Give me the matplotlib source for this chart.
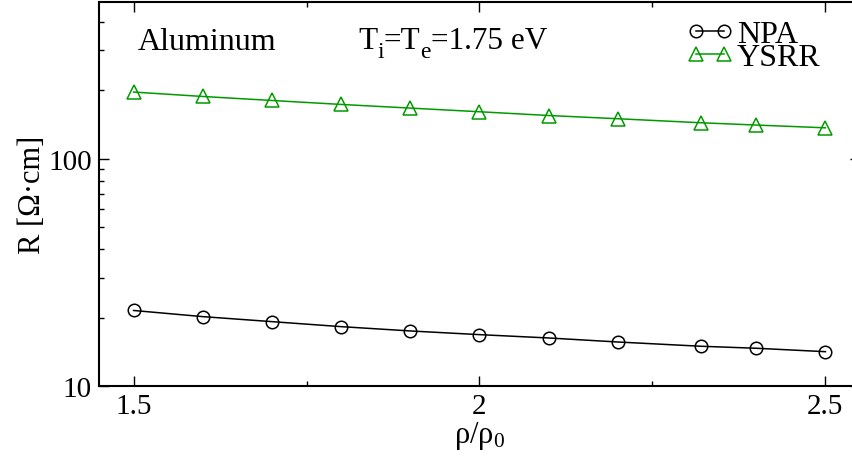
import matplotlib
matplotlib.use("Agg")
import matplotlib.pyplot as plt
from matplotlib.ticker import LogLocator, FixedLocator, NullFormatter, FuncFormatter

# data
density = [1.5, 1.6, 1.7, 1.8, 1.9, 2.0, 2.1, 2.2, 2.32, 2.4, 2.5]
npa = [21.5, 20.2, 19.2, 18.25, 17.47, 16.83, 16.27, 15.62, 14.96, 14.66, 14.16]
ysrr = [196.7, 188.1, 180.6, 173.5, 167.2, 161.1, 155.1, 150.1, 144.1, 140.8, 136.9]
xticks = [1.5, 2.0, 2.5]
xtick_labels = ["1.5", "2", "2.5"]

plt.rcParams["font.family"] = ["Liberation Serif", "DejaVu Serif"]
plt.rcParams["mathtext.fontset"] = "custom"
plt.rcParams["mathtext.rm"] = "Liberation Serif"
plt.rcParams["mathtext.it"] = "Liberation Serif:italic"

W, H, DPI = 853, 460, 100
fig = plt.figure(figsize=(W / DPI, H / DPI), dpi=DPI)
ax = fig.add_axes([99 / W, 73 / H, (860 - 99) / W, (387 - 3) / H])

green = "#009a00"
ax.plot(density, npa, "-", color="black", lw=1.1, marker="o", ms=9,
        mfc="none", mec="black", mew=1.1, label="NPA")
ax.plot(density, ysrr, "-", color=green, lw=1.1, marker="^", ms=10,
        mfc="none", mec=green, mew=1.1, label="YSRR")

ax.set_yscale("log")
ax.set_xlim(1.45, 2.55)
ax.set_ylim(10, 490)

ax.xaxis.set_major_locator(FixedLocator(xticks))
ax.set_xticklabels(xtick_labels)
ax.xaxis.set_minor_locator(FixedLocator([1.75, 2.25]))
ax.yaxis.set_major_locator(LogLocator(base=10, numticks=10))
ax.yaxis.set_major_formatter(FuncFormatter(lambda v, p: f"{v:g}"))
ax.yaxis.set_minor_locator(LogLocator(base=10, subs=range(2, 10), numticks=20))
ax.yaxis.set_minor_formatter(NullFormatter())

ax.tick_params(which="both", direction="in", top=True, right=True,
               width=1.0, labelsize=21, pad=5)
ax.tick_params(which="major", length=7.5)
ax.tick_params(which="minor", length=3.8)
for sp in ax.spines.values():
    sp.set_linewidth(1.5)

ax.set_xlabel("ρ/ρ$_0$", fontsize=22, labelpad=0)
ax.set_ylabel("R [Ω·cm]", fontsize=22, labelpad=1)

fig.text(138 / W, 1 - 50 / H, "Aluminum", fontsize=23, va="baseline", ha="left")

# temperature label built piece by piece so the subscripts sit low and large
fig.canvas.draw()
renderer = fig.canvas.get_renderer()
pieces = [("T", 22.5, 0), ("i", 17, -9), ("=T", 22.5, 0), ("e", 17, -9), ("=1.75 eV", 22.5, 0)]
x_px, base_px = 358, H - 49
for s, size, dy in pieces:
    t = fig.text(x_px / W, (base_px + dy) / H, s, fontsize=size,
                 va="baseline", ha="left")
    x_px = t.get_window_extent(renderer).x1

ax.legend(loc="upper left", bbox_to_anchor=(686 / W, 1 - 21 / H),
          bbox_transform=fig.transFigure, frameon=False, fontsize=23,
          numpoints=2, handlelength=1.5, handletextpad=0.1,
          labelspacing=-0.22, borderpad=0, borderaxespad=0)

fig.savefig("out.png", dpi=DPI)
